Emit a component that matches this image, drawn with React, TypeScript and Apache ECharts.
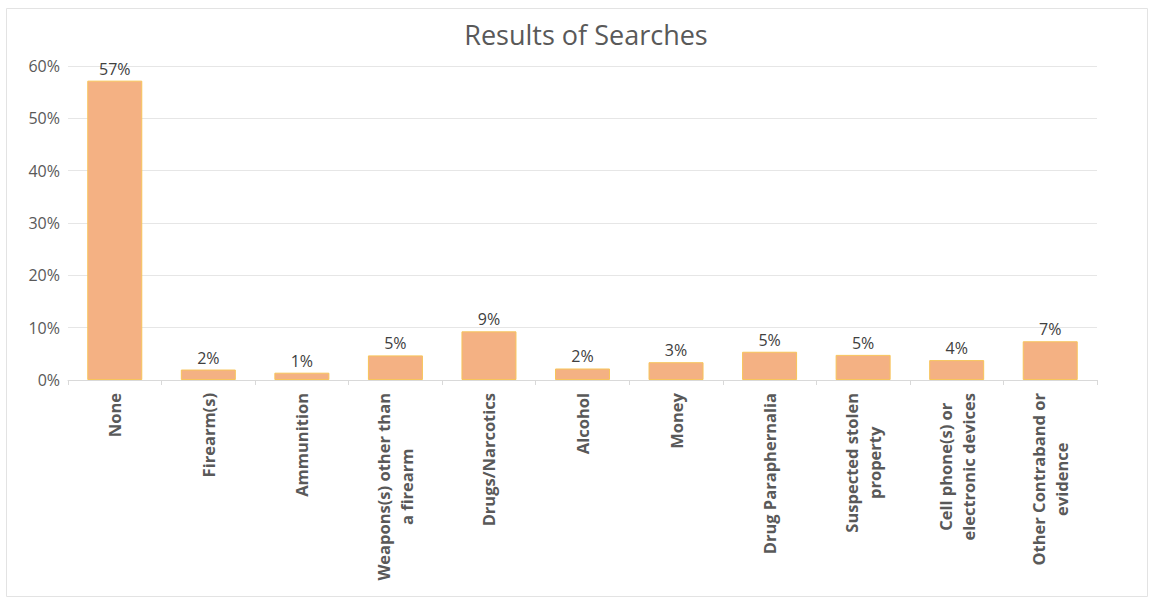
import React, { useEffect, useRef } from "react";
import * as echarts from "echarts";

const categories = [
  "None",
  "Firearm(s)",
  "Ammunition",
  "Weapons(s) other than\na firearm",
  "Drugs/Narcotics",
  "Alcohol",
  "Money",
  "Drug Paraphernalia",
  "Suspected stolen\nproperty",
  "Cell phone(s) or\nelectronic devices",
  "Other Contraband or\nevidence",
];
const values = [57.2, 2.0, 1.4, 4.7, 9.3, 2.2, 3.4, 5.4, 4.8, 3.8, 7.4];
const yTicks = { min: 0, max: 60, interval: 10 };
const title = "Results of Searches";

const FONT = "'Open Sans', 'DejaVu Sans', sans-serif";

export default function App() {
  const ref = useRef<HTMLDivElement>(null);
  useEffect(() => {
    if (!ref.current) return;
    const chart = echarts.init(ref.current, undefined, { renderer: "svg" });
    chart.setOption({
      animation: false,
      backgroundColor: "#ffffff",
      textStyle: { fontFamily: FONT },
      title: {
        text: title,
        left: 581,
        textAlign: "center",
        top: 16,
        textStyle: { fontFamily: FONT, fontSize: 27, fontWeight: "normal", color: "#595959" },
      },
      graphic: [
        {
          type: "rect",
          shape: { x: 6.5, y: 8.5, width: 1141, height: 588 },
          style: { fill: "none", stroke: "#e3e3e3", lineWidth: 1 },
          silent: true,
        },
      ],
      grid: { left: 68, right: 53, top: 66, bottom: 217, containLabel: false },
      xAxis: {
        type: "category",
        data: categories,
        axisLine: { lineStyle: { color: "#d9d9d9", width: 1 } },
        axisTick: { show: true, length: 5, lineStyle: { color: "#d9d9d9" } },
        axisLabel: {
          rotate: 90,
          interval: 0,
          margin: 13,
          formatter: (v: string) =>
            v
              .split("\n")
              .map((l) => "{c|" + l + "}")
              .join("\n"),
          rich: {
            c: {
              align: "center",
              fontFamily: FONT,
              fontSize: 16.5,
              fontWeight: "bold",
              color: "#595959",
              lineHeight: 23,
            },
          },
        },
      },
      yAxis: {
        type: "value",
        min: yTicks.min,
        max: yTicks.max,
        interval: yTicks.interval,
        axisLine: { show: false },
        axisTick: { show: false },
        splitLine: { lineStyle: { color: "#e6e6e6", width: 1 } },
        axisLabel: {
          formatter: "{value}%",
          fontFamily: FONT,
          fontSize: 16,
          color: "#595959",
          margin: 8,
        },
      },
      series: [
        {
          type: "bar",
          data: values,
          barWidth: 55,
          itemStyle: { color: "#F4B183", borderColor: "#F7C45A", borderWidth: 1 },
          label: {
            show: true,
            position: "top",
            distance: 4,
            fontFamily: FONT,
            fontSize: 16,
            color: "#404040",
            formatter: (p: any) => Math.round(p.value) + "%",
          },
        },
      ],
    });
    return () => chart.dispose();
  }, []);
  return (
    <div
      ref={ref}
      style={{ position: "fixed", left: 0, top: 0, width: 1150, height: 597 }}
    />
  );
}
